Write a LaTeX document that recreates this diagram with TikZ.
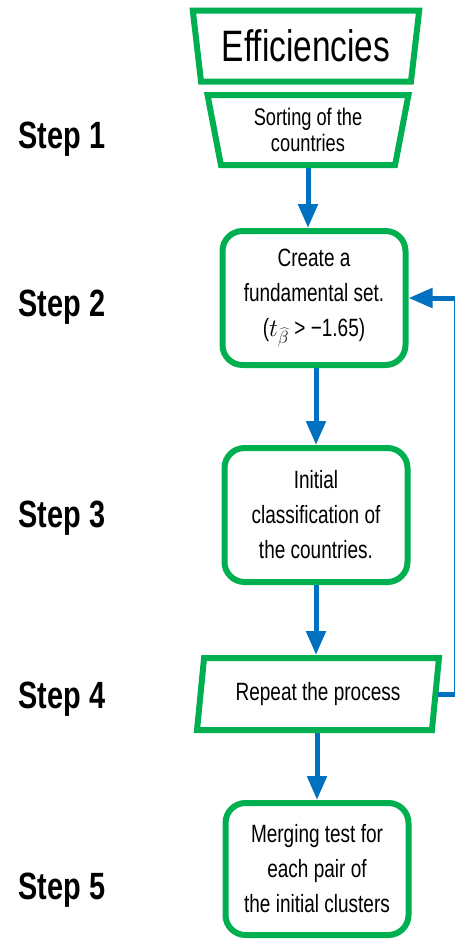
\documentclass[tikz,border=0pt]{standalone}
\usepackage{fix-cm}
\usepackage{fontspec}
\setmainfont[FakeStretch=0.76]{Liberation Sans}
\usetikzlibrary{shapes.geometric,arrows.meta}
\definecolor{boxgreen}{HTML}{00B050}
\definecolor{flowblue}{HTML}{0070C0}
\begin{document}
\begin{tikzpicture}[x=1pt, y=-1pt,
  flow/.style={draw=flowblue, line width=5pt, -{Triangle[length=24pt,width=19pt]}},
  roundbox/.style={draw=boxgreen, line width=6pt, rounded corners=20pt, minimum width=183pt, minimum height=134pt, align=center, font=\fontsize{25}{35}\selectfont},
  topbox/.style={draw=boxgreen, line width=6pt, trapezium, shape border rotate=180, trapezium left angle=80, trapezium right angle=80, trapezium stretches=true, align=center},
  steplabel/.style={font=\fontsize{38}{40}\selectfont\bfseries}]
\useasboundingbox (0,0) rectangle (455,943);
\node[topbox, minimum width=227pt, minimum height=71pt, font=\fontsize{44}{46}\selectfont] (eff) at (306,46) {Efficiencies};
\node[topbox, minimum width=201pt, minimum height=70pt, font=\fontsize{24}{26}\selectfont] (sort) at (308,130) {Sorting of the\\countries};
\node[roundbox] (create) at (314,298) {Create a\\fundamental set.\\(\(t_{\widehat{\beta}}\) > −1.65)};
\node[roundbox] (init) at (316,515) {Initial\\classification of\\the countries.};
\node[draw=boxgreen, line width=6pt, trapezium, trapezium left angle=80, trapezium right angle=100, trapezium stretches=true, minimum width=242pt, minimum height=72pt, font=\fontsize{25}{27}\selectfont] (rep) at (318,694) {Repeat the process};
\node[roundbox, minimum height=132pt] (merge) at (317,869) {Merging test for\\each pair of\\the initial clusters};
\node[steplabel] (s1) at (62,139) {Step 1};
\node[steplabel] (s2) at (62,307) {Step 2};
\node[steplabel] (s3) at (62,518) {Step 3};
\node[steplabel] (s4) at (62,699) {Step 4};
\node[steplabel] (s5) at (62,890) {Step 5};
\coordinate (back) at (456,0);
\draw[flow] (sort.south) -- (sort.south |- create.north);
\draw[flow] (create.south -| init.north) -- (init.north);
\draw[flow] (init.south) -- (init.south |- rep.north);
\draw[flow] (rep.south -| merge.north) -- (merge.north);
\draw[flow] (rep.east) -- (rep.east -| back) |- (create.east);
\end{tikzpicture}
\end{document}
